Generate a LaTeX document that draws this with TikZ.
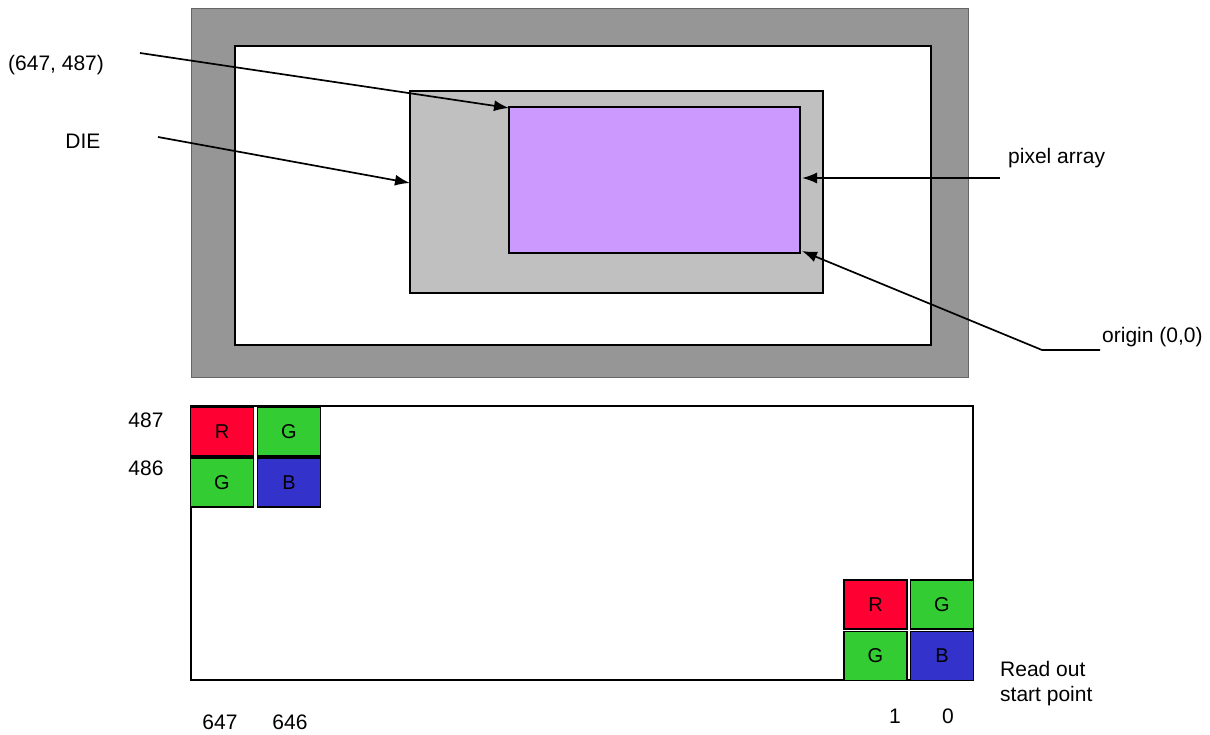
\documentclass[tikz,border=0pt]{standalone}
\usepackage{fontspec}
\setmainfont{Liberation Sans}
\usetikzlibrary{arrows.meta}
\definecolor{framegray}{RGB}{150,150,150}
\definecolor{diegray}{RGB}{192,192,192}
\definecolor{arraypurple}{RGB}{204,153,255}
\definecolor{pxred}{RGB}{255,0,51}
\definecolor{pxgreen}{RGB}{51,204,51}
\definecolor{pxblue}{RGB}{51,51,204}
\tikzset{
  lbl/.style={inner sep=0pt, font=\fontsize{21}{25}\selectfont},
  cell/.style={draw, line width=1.6pt, minimum width=63pt, minimum height=49pt,
    inner sep=0pt, font=\fontsize{20}{24}\selectfont},
  pointer/.style={-{Latex[length=15pt,width=11pt]}, line width=1.7pt}
}
\def\boxline{1.6pt}

\begin{document}
\begin{tikzpicture}[x=1pt, y=-1pt]
    \useasboundingbox[fill=white] (0, 0) rectangle (1210, 735);
    % package outline
    \draw[fill=framegray, draw=gray!80!black, line width=1pt] (191, 9) rectangle (968, 377);
    \draw[fill=white, line width=\boxline] (235, 46) rectangle (931, 345);
    \draw[fill=diegray, line width=\boxline] (410, 91) rectangle (823, 293);
    \draw[fill=arraypurple, line width=\boxline] (509, 107) rectangle (800, 253);
    % labels
    \node[lbl, anchor=west] (corner) at (8, 65) {(647, 487)};
    \node[lbl] (die) at (83, 141) {DIE};
    \node[lbl, anchor=west] (array) at (1008, 158) {pixel array};
    \node[lbl, anchor=west] (origin) at (1102, 337) {origin (0,0)};
    \coordinate (c0) at (140, 53);
    \coordinate (c1) at (509, 108);
    \coordinate (d0) at (158, 137);
    \coordinate (d1) at (410, 183);
    \coordinate (a0) at (1000, 178);
    \coordinate (a1) at (802, 178);
    \coordinate (o0) at (1100, 350);
    \coordinate (o1) at (1042, 350);
    \coordinate (o2) at (802, 251);
    \draw[pointer] (c0) -- (c1);
    \draw[pointer] (d0) -- (d1);
    \draw[pointer] (a0) -- (a1);
    \draw[pointer] (o0) -- (o1) -- (o2);
    % bayer layout
    \draw[line width=\boxline] (191, 406) rectangle (973, 680);
    \node[cell, fill=pxred] (tlR) at (222, 431.5) {R};
    \node[cell, fill=pxgreen] (tlGa) at (289, 431.5) {G};
    \node[cell, fill=pxgreen] (tlGb) at (222, 482.5) {G};
    \node[cell, fill=pxblue] (tlB) at (289, 482.5) {B};
    \node[cell, fill=pxred] (brR) at (875.5, 604.5) {R};
    \node[cell, fill=pxgreen] (brGa) at (942, 604.5) {G};
    \node[cell, fill=pxgreen] (brGb) at (875.5, 656) {G};
    \node[cell, fill=pxblue] (brB) at (942, 656) {B};
    \node[lbl] (row487) at (146, 420) {487};
    \node[lbl] (row486) at (146, 468) {486};
    \node[lbl] (col647) at (220, 722) {647};
    \node[lbl] (col646) at (290, 722) {646};
    \node[lbl] (col1) at (895, 716) {1};
    \node[lbl] (col0) at (948, 716) {0};
    \node[lbl, anchor=north west, align=left] (start) at (1000, 661) {Read out\\start point};
\end{tikzpicture}
\end{document}
